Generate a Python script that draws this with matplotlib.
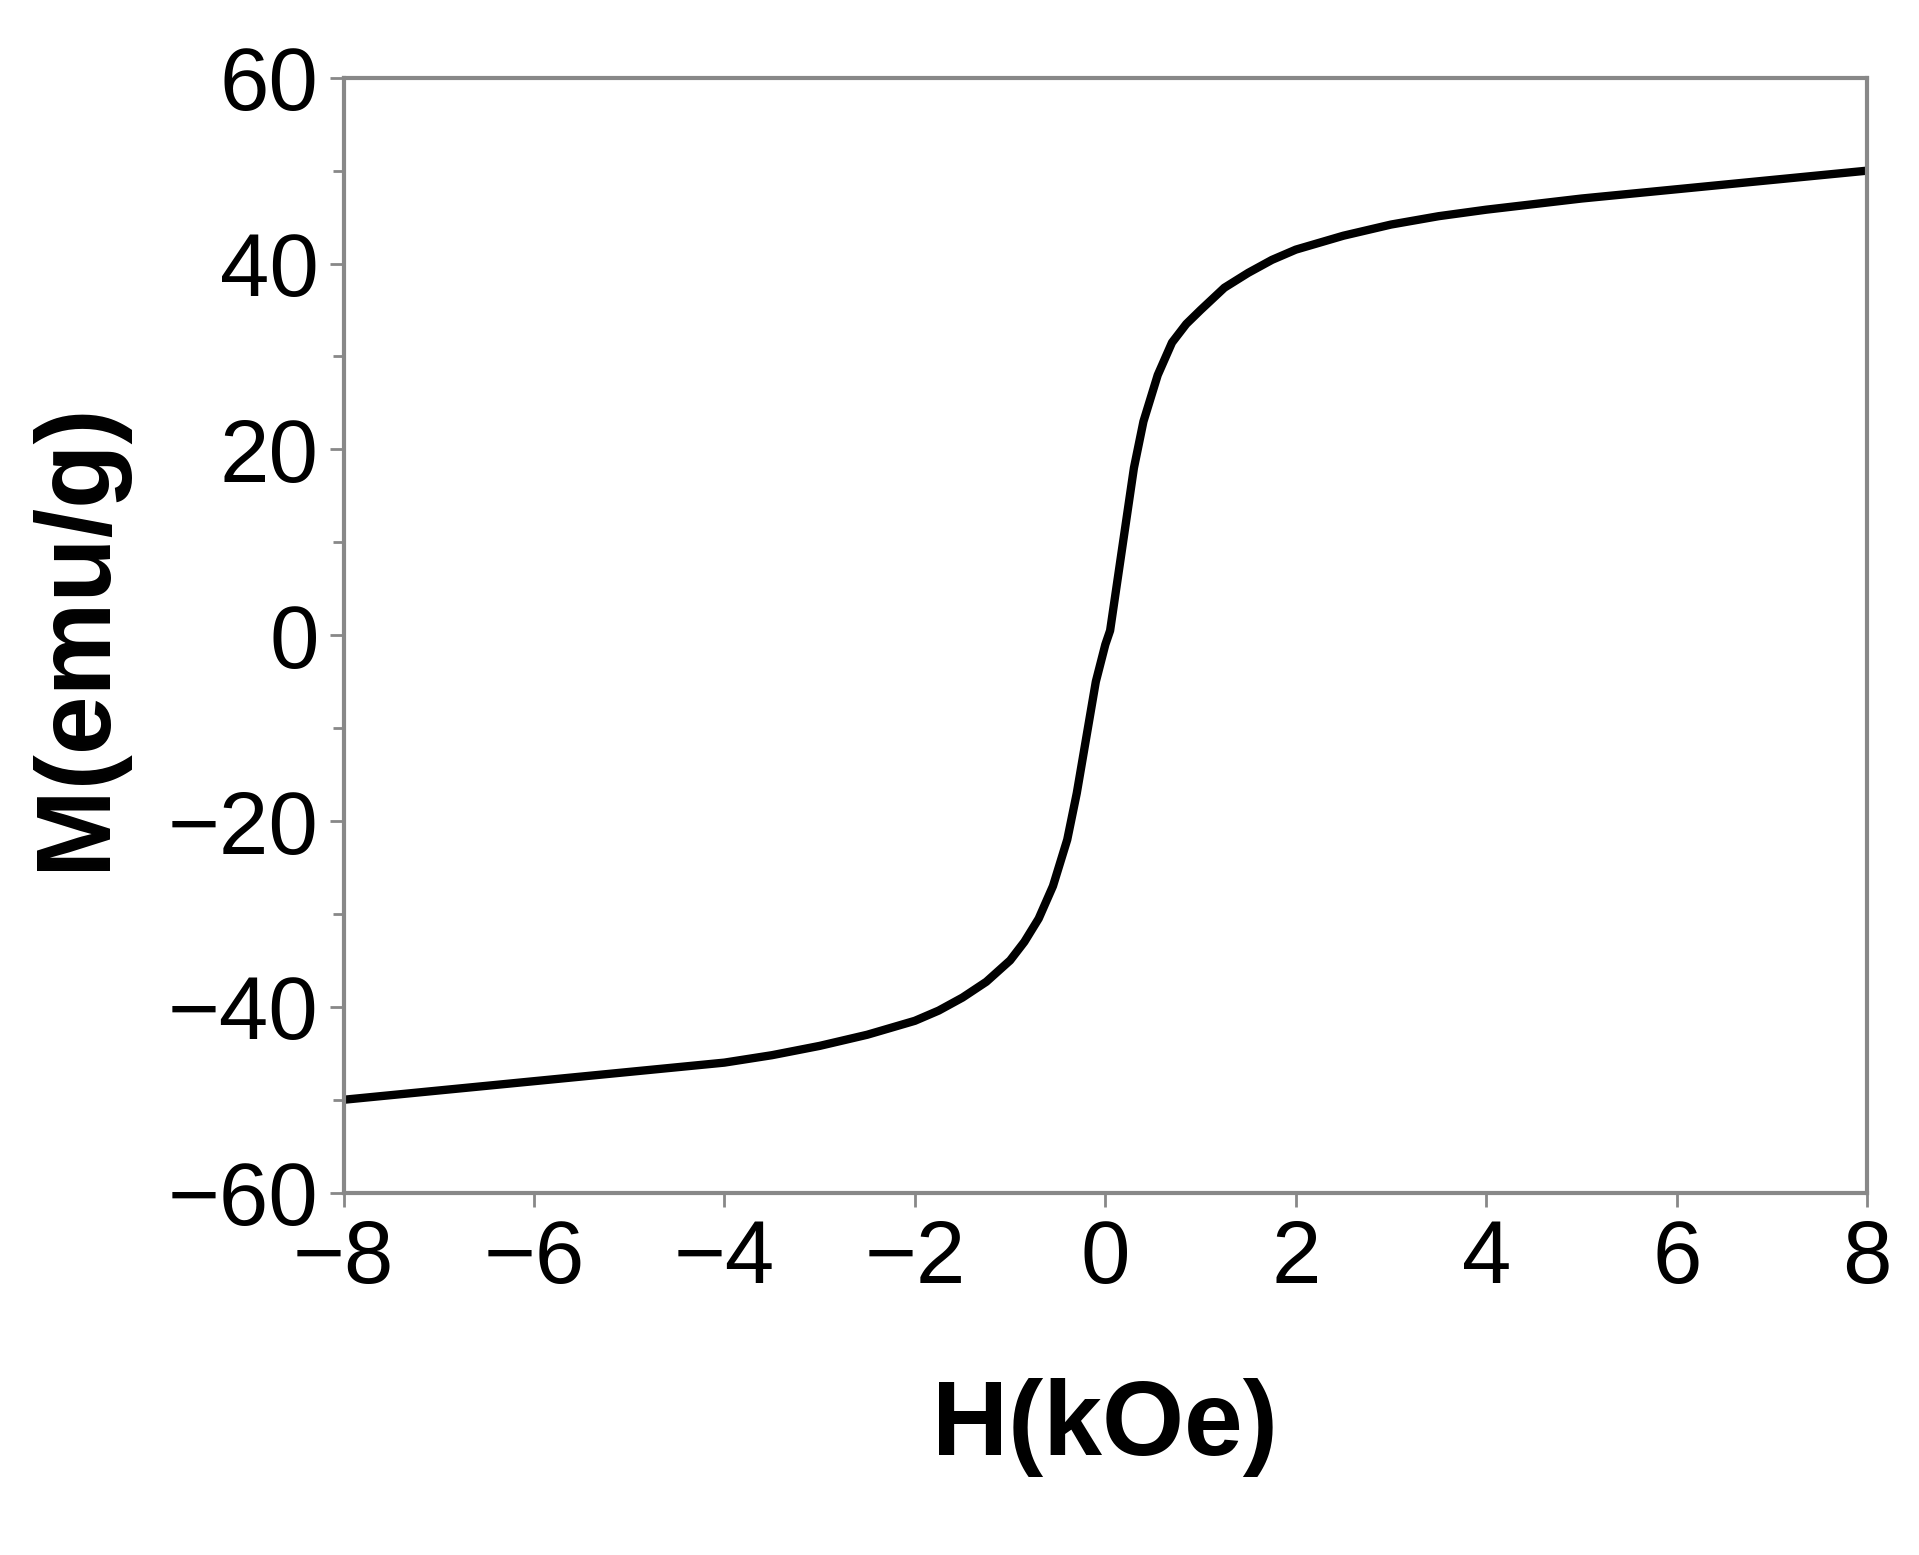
import numpy as np
import matplotlib.pyplot as plt
from matplotlib.ticker import MultipleLocator

# --- data ----------------------------------------------------------------
H = [-8, -7, -6, -5, -4, -3.5, -3, -2.5, -2, -1.75, -1.5, -1.25, -1, -0.85, -0.7, -0.55, -0.4,
     -0.3, -0.2, -0.1, 0, 0.05, 0.1, 0.2, 0.3, 0.4, 0.55, 0.7, 0.85, 1, 1.25, 1.5, 1.75, 2,
     2.5, 3, 3.5, 4, 5, 6, 7, 8]
M = [-50, -49, -48, -47, -46, -45.2, -44.2, -43, -41.5, -40.4, -39, -37.3, -35, -33, -30.5, -27, -22,
     -17, -11, -5, -1, 0.5, 4, 11, 18, 23, 28, 31.5, 33.5, 35, 37.4, 39, 40.4, 41.5,
     43, 44.2, 45.1, 45.8, 47, 48, 49, 50]

plt.rcParams["font.family"] = ["Liberation Sans", "DejaVu Sans"]

fig = plt.figure(figsize=(19.19, 15.55), dpi=100)
ax = fig.add_axes([0.179, 0.233, 0.794, 0.717])
ax.plot(H, M, color="black", lw=6, solid_joinstyle="round")

ax.set_xlim(-8, 8)
ax.set_ylim(-60, 60)
ax.xaxis.set_major_locator(MultipleLocator(2))
ax.yaxis.set_major_locator(MultipleLocator(20))
ax.yaxis.set_minor_locator(MultipleLocator(10))
ax.tick_params(axis="both", which="major", labelsize=64, length=10, width=2, color="#888888", pad=8)
ax.tick_params(axis="y", which="minor", length=8, width=2, color="#888888")
for s in ax.spines.values():
    s.set_color("#888888")
    s.set_linewidth(3)

ax.set_xlabel("H(kOe)", fontsize=76, fontweight="bold", labelpad=55)
ax.set_ylabel("M(emu/g)", fontsize=76, fontweight="bold", labelpad=30)

fig.savefig("out.png", dpi=100)
